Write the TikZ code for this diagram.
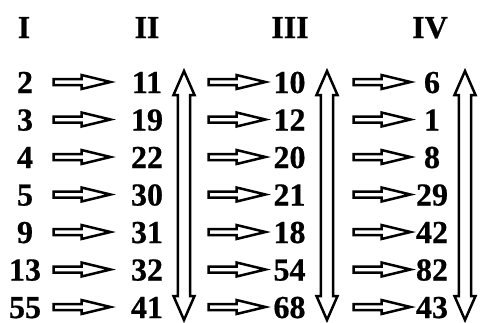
\documentclass[tikz,border=0pt]{standalone}
\usepackage{fontspec}
\setmainfont[BoldFeatures={FakeBold=0.6}]{Liberation Serif}
\begin{document}
\begin{tikzpicture}[x=1pt,y=-1pt,
  num/.style={anchor=base,inner sep=0pt,text depth=0pt,font=\fontsize{32}{32}\selectfont\bfseries},
  blk/.style={draw=black,line width=2.5pt,line join=miter,fill=white},
  harrow/.pic={\path[blk] (0,-3) -- (28,-3) -- (28,-7) -- (57,0) -- (28,7) -- (28,3) -- (0,3) -- cycle;},
  varrow/.pic={\path[blk] (0,0) -- (10.5,24) -- (6.2,24) -- (6.2,225) -- (10.5,225) -- (0,249) -- (-10.5,225) -- (-6.2,225) -- (-6.2,24) -- (-10.5,24) -- cycle;}
]
\useasboundingbox (0,0) rectangle (481,322);
% headers
\node[num] (h1) at (24,38) {I};
\node[num] (h2) at (147,38) {II};
\node[num] (h3) at (290,38) {III};
\node[num] (h4) at (430,38) {IV};
% numbers
\foreach \a/\b/\c/\d [count=\i from 0] in {2/11/10/6,3/19/12/1,4/22/20/8,5/30/21/29,9/31/18/42,13/32/54/82,55/41/68/43}{
  \pgfmathsetmacro{\yy}{93+37.5*\i}
  \node[num] (a\i) at (25,\yy) {\a};
  \node[num] (b\i) at (147,\yy) {\b};
  \node[num] (c\i) at (289.5,\yy) {\c};
  \node[num] (d\i) at (432,\yy) {\d};
  \pgfmathsetmacro{\ya}{\yy-11}
  \pic at (53.5,\ya) {harrow};
  \pic at (208.5,\ya) {harrow};
  \pic at (353.5,\ya) {harrow};
}
\pic at (184,71) {varrow};
\pic at (327,71) {varrow};
\pic at (465,71) {varrow};
\end{tikzpicture}
\end{document}
